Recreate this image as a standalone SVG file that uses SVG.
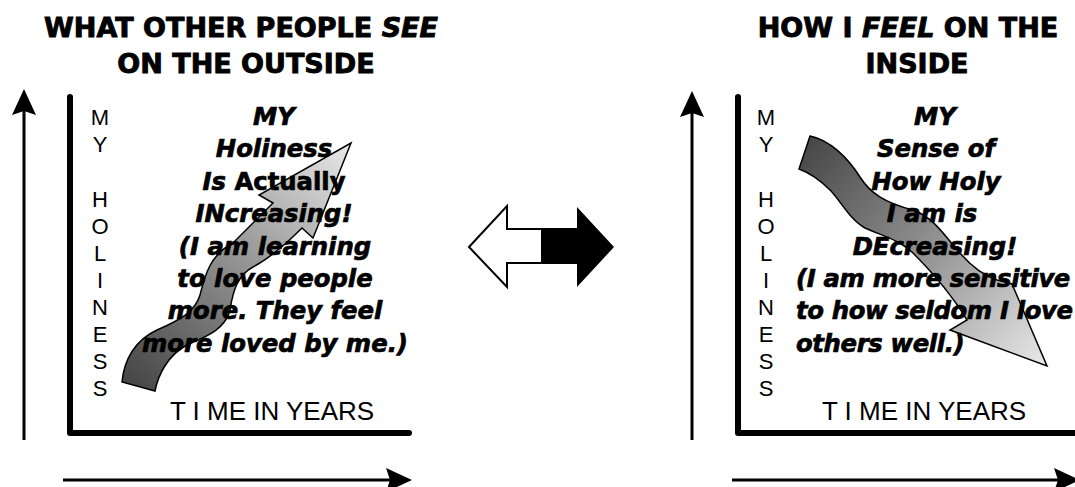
<svg xmlns="http://www.w3.org/2000/svg" width="1075" height="487" viewBox="0 0 1075 487">
<style>
.title{font-family:"DejaVu Sans","Noto Sans",sans-serif;font-weight:bold;font-size:27px;fill:#000;stroke:#000;stroke-width:0.9;text-anchor:middle}
.it{font-style:italic}
.body{font-family:"DejaVu Sans","Noto Sans",sans-serif;font-weight:bold;font-style:italic;font-size:24.3px;fill:#000;stroke:#000;stroke-width:0.7}
.up{font-style:normal}
.tight{letter-spacing:-0.35px}
.ax{font-family:"Liberation Sans",Arial,sans-serif;font-size:22px;fill:#000;text-anchor:middle}
.time{font-family:"Liberation Sans",Arial,sans-serif;font-size:26px;fill:#000;text-anchor:middle}
.frame{fill:none;stroke:#000;stroke-width:6;stroke-linecap:round;stroke-linejoin:round}
.shaft{fill:none;stroke:#000;stroke-width:3}
.wave{stroke:#000;stroke-width:1.5;stroke-linejoin:miter}
</style>
<defs>
<marker id="head" markerUnits="userSpaceOnUse" markerWidth="26" markerHeight="24" viewBox="0 0 26 24" refX="4" refY="12" orient="auto">
<path d="M0,0 L26,12 L0,24 L4,12 Z" fill="#000"/>
</marker>
<linearGradient id="gUp" gradientUnits="userSpaceOnUse" x1="130" y1="390" x2="350" y2="145">
<stop offset="0" stop-color="#444"/>
<stop offset="0.55" stop-color="#999"/>
<stop offset="1" stop-color="#e8e8e8"/>
</linearGradient>
<linearGradient id="gDown" gradientUnits="userSpaceOnUse" x1="800" y1="140" x2="1045" y2="365">
<stop offset="0" stop-color="#444"/>
<stop offset="0.55" stop-color="#999"/>
<stop offset="1" stop-color="#e8e8e8"/>
</linearGradient>
</defs>

<g id="connectors">
<line class="shaft" x1="24" y1="440" x2="24" y2="111" marker-end="url(#head)"/>
<line class="shaft" x1="63" y1="480" x2="390" y2="480" marker-end="url(#head)"/>
<line class="shaft" x1="692" y1="440" x2="692" y2="113" marker-end="url(#head)"/>
<line class="shaft" x1="732" y1="480" x2="1058" y2="480" marker-end="url(#head)"/>
</g>

<g id="title-left">
<text class="title" x="241" y="37">WHAT OTHER PEOPLE <tspan class="it">SEE</tspan></text>
<text class="title" x="246" y="73">ON THE OUTSIDE</text>
</g>

<g id="title-right">
<text class="title" x="908" y="37">HOW I <tspan class="it">FEEL</tspan> ON THE</text>
<text class="title" x="917" y="73">INSIDE</text>
</g>

<g id="chart-left">
<path class="frame" d="M70,97 L70,433 L409,433"/>
<g class="ax">
<text x="100" y="125">M</text><text x="100" y="152">Y</text>
<text x="100" y="207">H</text><text x="100" y="234">O</text><text x="100" y="261">L</text>
<text x="100" y="288">I</text><text x="100" y="315">N</text><text x="100" y="342">E</text>
<text x="100" y="369">S</text><text x="100" y="396">S</text>
</g>
<text class="time" x="272" y="420">T I ME IN YEARS</text>
<path class="wave" fill="url(#gUp)" d="M122,382 C124,360 135,340 157,330 C180,320 195,312 200,295 C205,275 210,255 233,243 L273,203 L259,195 L351,143 L313,238 L302,228 C285,245 270,258 253,267 C238,275 233,290 230,310 C225,330 205,337 187,345 C168,355 158,375 155,391 Z"/>
<g class="body" text-anchor="middle">
<text x="274" y="125">MY</text>
<text x="274" y="157">Holiness</text>
<text x="274" y="190">Is <tspan class="up">Actually</tspan></text>
<text x="274" y="222">INcreasing!</text>
<text x="275" y="255">(I am learning</text>
<text x="275" y="287">to love people</text>
<text x="275" y="319">more. They feel</text>
<text x="275" y="352">more loved by me.)</text>
</g>
</g>

<g id="double-arrow">
<polygon points="469,247 507,206 507,229 542,229 542,263 507,263 507,287" fill="#fff" stroke="#000" stroke-width="2"/>
<polygon points="542,228 577,228 577,207 614,247 577,287 577,264 542,264" fill="#000"/>
</g>

<g id="chart-right">
<path class="frame" d="M738,97 L738,433 L1080,433"/>
<g class="ax">
<text x="766" y="125">M</text><text x="766" y="152">Y</text>
<text x="766" y="207">H</text><text x="766" y="234">O</text><text x="766" y="261">L</text>
<text x="766" y="288">I</text><text x="766" y="315">N</text><text x="766" y="342">E</text>
<text x="766" y="369">S</text><text x="766" y="396">S</text>
</g>
<text class="time" x="924" y="420">T I ME IN YEARS</text>
<path class="wave" fill="url(#gDown)" d="M810,136 C830,140 848,158 860,177 C870,193 885,203 913,210 C935,218 945,237 960,253 C972,267 985,276 997,280 L1012,284 L1047,366 L950,330 L967,320 C955,300 935,275 913,253 C900,240 880,235 865,228 C850,220 840,200 830,190 C820,180 810,173 799,169 Z"/>
<g class="body" text-anchor="middle">
<text x="935" y="125">MY</text>
<text x="936" y="157">Sense of</text>
<text x="936" y="190">How Holy</text>
<text x="932" y="222">I am is</text>
<text x="935" y="255">DEcreasing!</text>
</g>
<g class="body tight">
<text x="796" y="287">(I am more sensitive</text>
<text x="796" y="319">to how seldom I love</text>
<text x="796" y="352">others well.)</text>
</g>
</g>
</svg>
